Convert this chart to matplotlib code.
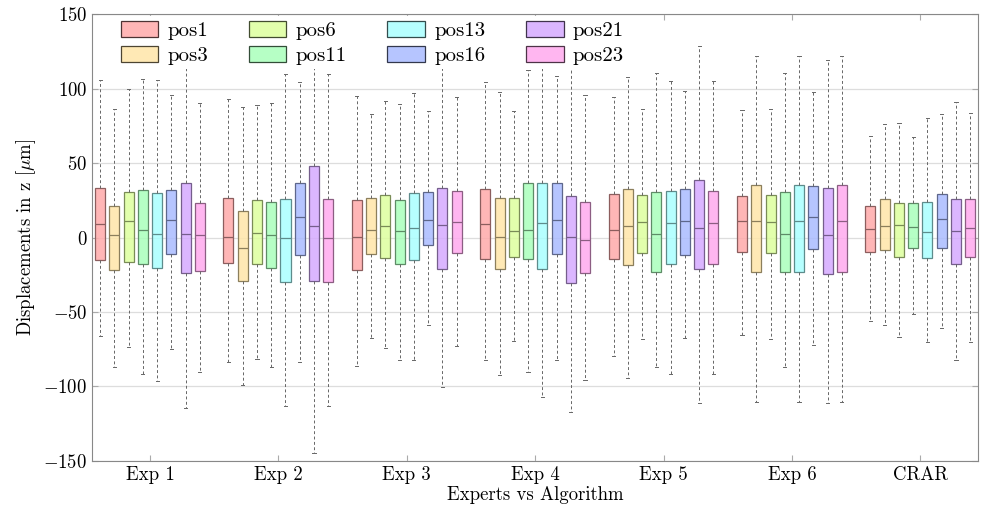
import matplotlib
matplotlib.use('Agg')
import matplotlib.pyplot as plt
import matplotlib.colors as mcolors
from matplotlib.patches import Patch

plt.rcParams['font.family'] = 'cmr10'
plt.rcParams['mathtext.fontset'] = 'cm'
plt.rcParams['axes.formatter.use_mathtext'] = True

groups = ['Exp 1', 'Exp 2', 'Exp 3', 'Exp 4', 'Exp 5', 'Exp 6', 'CRAR']
pos_names = ['pos1', 'pos3', 'pos6', 'pos11', 'pos13', 'pos16', 'pos21', 'pos23']
colors = ['#ffaaaa', '#ffe6a8', '#ddff9e', '#aaffbb', '#aaffff', '#aabbff', '#d5aaff', '#ffaaee']

# one row per group, one column per position
whis_hi = [
    [105.7, 86.2, 100.1, 106.4, 106.2, 96.1, 125.0, 90.7],
    [93.0, 87.8, 89.1, 90.5, 110.2, 104.6, 125.0, 110.2],
    [95.2, 83.1, 91.6, 89.6, 97.0, 84.9, 114.6, 94.3],
    [104.6, 97.9, 85.1, 112.4, 122.0, 108.4, 114.6, 96.1],
    [94.5, 107.9, 86.7, 110.6, 105.2, 98.3, 128.5, 105.2],
    [85.6, 122.0, 86.4, 110.6, 122.0, 98.1, 119.6, 122.0],
    [68.3, 76.0, 77.0, 67.4, 80.4, 83.1, 91.2, 83.8],
]
q3 = [
    [33.0, 21.4, 30.3, 31.9, 30.1, 31.9, 37.0, 22.9],
    [26.7, 17.8, 25.2, 23.6, 25.8, 36.6, 47.8, 25.8],
    [25.0, 26.7, 28.3, 25.0, 29.7, 30.5, 33.0, 31.4],
    [32.8, 26.3, 26.3, 36.4, 36.8, 36.8, 27.6, 24.0],
    [29.0, 32.3, 28.3, 30.3, 31.2, 32.3, 38.6, 31.2],
    [28.1, 35.0, 28.3, 30.3, 35.0, 34.6, 33.0, 35.0],
    [21.4, 25.6, 23.2, 22.9, 23.6, 29.2, 26.0, 25.6],
]
med = [
    [8.9, 1.5, 11.1, 4.8, 2.1, 11.5, 2.1, 1.5],
    [0.3, -7.0, 3.2, 1.5, -0.5, 13.5, 7.5, -0.5],
    [0.6, 5.0, 7.5, 4.4, 6.2, 11.9, 8.4, 10.4],
    [8.9, 0.6, 4.4, 4.8, 9.7, 11.9, 0.6, -1.9],
    [5.0, 7.7, 10.4, 2.1, 9.5, 11.1, 6.2, 9.5],
    [11.1, 11.1, 10.4, 2.1, 11.1, 13.5, 1.7, 11.1],
    [5.5, 7.5, 8.2, 6.8, 3.9, 12.2, 4.4, 6.4],
]
q1 = [
    [-15.1, -21.8, -16.2, -17.8, -20.7, -11.1, -24.0, -22.3],
    [-17.3, -29.0, -17.8, -20.7, -30.1, -12.0, -29.2, -30.1],
    [-21.6, -11.1, -13.5, -17.8, -15.1, -5.2, -21.1, -10.4],
    [-14.6, -21.1, -12.9, -14.2, -20.9, -11.1, -30.5, -24.0],
    [-14.6, -18.5, -10.6, -23.2, -18.0, -11.5, -20.9, -18.0],
    [-9.9, -23.4, -10.6, -23.2, -23.4, -7.9, -24.7, -23.4],
    [-9.9, -8.4, -13.1, -7.3, -13.8, -7.3, -17.6, -13.3],
]
whis_lo = [
    [-66.1, -86.7, -73.7, -91.8, -96.3, -75.0, -114.6, -90.0],
    [-83.8, -99.0, -81.5, -87.1, -113.5, -83.8, -145.0, -113.5],
    [-86.0, -67.7, -74.4, -82.2, -82.2, -58.7, -100.1, -72.8],
    [-82.2, -92.3, -69.2, -90.0, -107.3, -82.2, -117.3, -95.6],
    [-79.5, -94.1, -68.3, -86.7, -91.6, -67.2, -110.9, -91.6],
    [-65.4, -110.2, -68.3, -86.7, -110.2, -71.9, -111.3, -110.2],
    [-56.3, -58.5, -66.6, -51.3, -69.9, -60.5, -82.2, -69.9],
]


def darker(c, f=0.55):
    r, g, b = mcolors.to_rgb(c)
    return (r * f, g * f, b * f)


fig, ax = plt.subplots(figsize=(9.81, 5.12), dpi=100)
fig.subplots_adjust(left=0.094, right=0.997, top=0.972, bottom=0.1)

step = 0.111
width = 0.078
for j, name in enumerate(pos_names):
    stats = []
    xs = []
    for g in range(len(groups)):
        stats.append({'med': med[g][j], 'q1': q1[g][j], 'q3': q3[g][j],
                      'whislo': whis_lo[g][j], 'whishi': whis_hi[g][j], 'fliers': []})
        xs.append(g + 1 + (j - 3.5) * step)
    edge = darker(colors[j])
    ax.bxp(stats, positions=xs, widths=width, patch_artist=True, showfliers=False,
           capwidths=0.025, manage_ticks=False,
           boxprops=dict(facecolor=mcolors.to_rgba(colors[j], 0.85), edgecolor=edge, linewidth=0.9),
           medianprops=dict(color=edge, linewidth=0.9),
           whiskerprops=dict(color='#666666', linestyle=(0, (3, 2.5)), linewidth=0.7),
           capprops=dict(color='#666666', linewidth=0.7))

ax.set_xlim(0.55, 7.45)
ax.set_ylim(-150, 150)
ax.set_xticks(range(1, len(groups) + 1))
ax.set_xticklabels(groups)
ax.set_yticks([-150, -100, -50, 0, 50, 100, 150])
ax.yaxis.grid(True, color='#dddddd', linewidth=0.9)
ax.set_axisbelow(True)
ax.tick_params(direction='in', length=4, color='#aaaaaa', labelsize=13.5,
               top=True, right=True)
for s in ax.spines.values():
    s.set_color('#888888')

ax.set_xlabel('Experts vs Algorithm', fontsize=13.5, labelpad=2)
ax.set_ylabel(r'Displacements in z [$\mu$m]', fontsize=13.5, labelpad=4)

handles = [Patch(facecolor=mcolors.to_rgba(c, 0.85), edgecolor=darker(c, 0.3), linewidth=0.9)
           for c in colors]
leg = ax.legend(handles, pos_names, ncol=4, loc='upper left', bbox_to_anchor=(0.025, 1.0),
                frameon=True, fontsize=15, handlelength=1.8, handleheight=0.8,
                columnspacing=1.95, handletextpad=0.45, labelspacing=0.3,
                borderaxespad=0.1, borderpad=0.2)
leg.get_frame().set_edgecolor('none')
leg.get_frame().set_facecolor('white')
leg.get_frame().set_alpha(1.0)
leg.set_zorder(10)

fig.savefig('out.png', dpi=100)
